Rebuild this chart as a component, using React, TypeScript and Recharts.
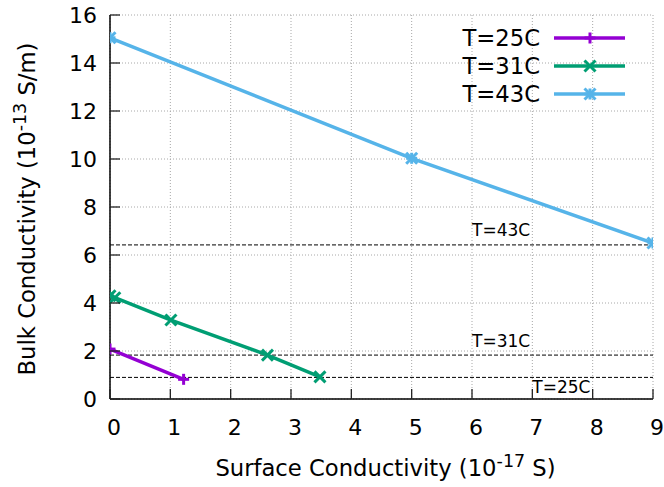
import React from 'react';
import { LineChart, Line, XAxis, YAxis, CartesianGrid, ReferenceLine, ReferenceDot, Legend } from 'recharts';

const xTicks = [0, 1, 2, 3, 4, 5, 6, 7, 8, 9];
const yTicks = [0, 2, 4, 6, 8, 10, 12, 14, 16];

const seriesNames = ['T=25C', 'T=31C', 'T=43C'];
const seriesColors = ['#9400D3', '#009E73', '#56B4E9'];
const seriesMarkers = ['plus', 'cross', 'star'];

const t25Surface = [0, 1.22];
const t25Bulk = [2.08, 0.82];
const t31Surface = [0, 0.08, 1.01, 2.61, 3.48];
const t31Bulk = [4.3, 4.22, 3.29, 1.83, 0.92];
const t43Surface = [0, 5, 9];
const t43Bulk = [15.05, 10.03, 6.5];

const thresholdValues = [6.42, 1.83, 0.9];
const thresholdLabels = ['T=43C', 'T=31C', 'T=25C'];
const thresholdLabelX = [6, 6, 7];
const thresholdLabelY = [7.05, 2.4, 0.52];

const FONT = '"DejaVu Sans", sans-serif';

const toPoints = (xs: number[], ys: number[]) => xs.map((x, i) => ({ x, y: ys[i] }));
const seriesData = [
  toPoints(t25Surface, t25Bulk),
  toPoints(t31Surface, t31Bulk),
  toPoints(t43Surface, t43Bulk),
];

const MarkerShape = ({ kind, cx, cy, color }: any) => {
  const s = 5.5;
  const sw = 3;
  const plus = (
    <>
      <line x1={cx - s} y1={cy} x2={cx + s} y2={cy} stroke={color} strokeWidth={sw} />
      <line x1={cx} y1={cy - s} x2={cx} y2={cy + s} stroke={color} strokeWidth={sw} />
    </>
  );
  const cross = (
    <>
      <line x1={cx - s} y1={cy - s} x2={cx + s} y2={cy + s} stroke={color} strokeWidth={sw} />
      <line x1={cx - s} y1={cy + s} x2={cx + s} y2={cy - s} stroke={color} strokeWidth={sw} />
    </>
  );
  return (
    <g>
      {kind !== 'cross' && plus}
      {kind !== 'plus' && cross}
    </g>
  );
};

const makeDot = (kind: string, color: string) => (props: any) => {
  const { cx, cy, index } = props;
  if (cx == null || cy == null) return <g key={`${kind}-${index}`} />;
  return (
    <g key={`${kind}-${index}`}>
      <MarkerShape kind={kind} cx={cx} cy={cy} color={color} />
    </g>
  );
};

const BottomTick = (props: any) => {
  const { x, y, payload } = props;
  return (
    <g>
      <line x1={x} y1={y} x2={x} y2={y - 10} stroke="#222" strokeWidth={1.3} />
      <text x={x + 4} y={y + 36} textAnchor="middle" fontSize={22} fontFamily={FONT} fill="#000">
        {payload.value}
      </text>
    </g>
  );
};

const TopTick = (props: any) => {
  const { x, y } = props;
  return <line x1={x} y1={y} x2={x} y2={y + 10} stroke="#222" strokeWidth={1.3} />;
};

const LeftTick = (props: any) => {
  const { x, y, payload } = props;
  return (
    <g>
      <line x1={x} y1={y} x2={x + 10} y2={y} stroke="#222" strokeWidth={1.3} />
      <text x={x - 13} y={y + 8} textAnchor="end" fontSize={22} fontFamily={FONT} fill="#000">
        {payload.value}
      </text>
    </g>
  );
};

const RightTick = (props: any) => {
  const { x, y } = props;
  return <line x1={x} y1={y} x2={x - 10} y2={y} stroke="#222" strokeWidth={1.3} />;
};

const XTitle = (props: any) => {
  const { x, y, width } = props.viewBox;
  return (
    <text x={x + width / 2 + 4} y={y + 77} textAnchor="middle" fontSize={22.7} fontFamily={FONT} fill="#000">
      Surface Conductivity (10
      <tspan dy={-9} fontSize={17.5}>-17</tspan>
      <tspan dy={9}> S)</tspan>
    </text>
  );
};

const YTitle = (props: any) => {
  const { y, height } = props.viewBox;
  const cx = 35;
  const cy = y + height / 2 + 2;
  return (
    <text
      x={cx}
      y={cy}
      transform={`rotate(-90, ${cx}, ${cy})`}
      textAnchor="middle"
      fontSize={22.7}
      fontFamily={FONT}
      fill="#000"
    >
      Bulk Conductivity (10
      <tspan dy={-9} fontSize={17.5}>-13</tspan>
      <tspan dy={9}> S/m)</tspan>
    </text>
  );
};

const AnnotationLabel = (text: string) => (props: any) => {
  const { x, y } = props.viewBox;
  return (
    <text x={x} y={y + 6} fontSize={17} fontFamily={FONT} fill="#000">
      {text}
    </text>
  );
};

const renderLegend = () => (
  <svg width={200} height={90} style={{ display: 'block', overflow: 'visible' }}>
    {seriesNames.map((name, i) => {
      const cy = 14 + i * 28;
      return (
        <g key={name}>
          <text x={100} y={cy + 8} textAnchor="end" fontSize={22.7} fontFamily={FONT} fill="#000">
            {name}
          </text>
          <line x1={114} y1={cy} x2={185} y2={cy} stroke={seriesColors[i]} strokeWidth={3.5} />
          <MarkerShape kind={seriesMarkers[i]} cx={150} cy={cy} color={seriesColors[i]} />
        </g>
      );
    })}
  </svg>
);

export default function App() {
  return (
    <div style={{ position: 'absolute', left: 0, top: 0, width: 664, height: 487, background: '#fff' }}>
      <LineChart
        width={664}
        height={487}
        margin={{ top: 15, right: 11, bottom: 0, left: 0 }}
        style={{ fontFamily: FONT }}
      >
        <CartesianGrid stroke="#a8a8a8" strokeDasharray="1 2" strokeWidth={1} />
        <XAxis
          type="number"
          dataKey="x"
          domain={[0, 9]}
          ticks={xTicks}
          interval={0}
          height={88}
          tickSize={0}
          tickMargin={0}
          tick={<BottomTick />}
          axisLine={{ stroke: '#000', strokeWidth: 1.5 }}
          label={<XTitle />}
          allowDataOverflow
        />
        <XAxis
          xAxisId="top"
          orientation="top"
          type="number"
          dataKey="x"
          domain={[0, 9]}
          ticks={xTicks}
          interval={0}
          height={0}
          tickSize={0}
          tickMargin={0}
          tick={<TopTick />}
          axisLine={{ stroke: '#000', strokeWidth: 1.5 }}
          allowDataOverflow
        />
        <YAxis
          type="number"
          domain={[0, 16]}
          ticks={yTicks}
          interval={0}
          width={110}
          tickSize={0}
          tickMargin={0}
          tick={<LeftTick />}
          axisLine={{ stroke: '#000', strokeWidth: 1.5 }}
          label={<YTitle />}
          allowDataOverflow
        />
        <YAxis
          yAxisId="right"
          orientation="right"
          type="number"
          domain={[0, 16]}
          ticks={yTicks}
          interval={0}
          width={0}
          tickSize={0}
          tickMargin={0}
          tick={<RightTick />}
          axisLine={{ stroke: '#000', strokeWidth: 1.5 }}
          allowDataOverflow
        />
        {thresholdValues.map((v, i) => (
          <ReferenceLine
            key={`thr-${i}`}
            y={v}
            stroke="#000"
            strokeWidth={1}
            strokeDasharray="4 2"
          />
        ))}
        {thresholdLabels.map((t, i) => (
          <ReferenceDot
            key={`lab-${i}`}
            x={thresholdLabelX[i]}
            y={thresholdLabelY[i]}
            r={0}
            fill="none"
            stroke="none"
            label={AnnotationLabel(t)}
          />
        ))}
        {seriesData.map((d, i) => (
          <Line
            key={seriesNames[i]}
            data={d}
            dataKey="y"
            name={seriesNames[i]}
            type="linear"
            stroke={seriesColors[i]}
            strokeWidth={3.5}
            dot={makeDot(seriesMarkers[i], seriesColors[i])}
            activeDot={false}
            isAnimationActive={false}
          />
        ))}
        <Legend
          layout="vertical"
          align="center"
          verticalAlign="middle"
          content={renderLegend}
          wrapperStyle={{ left: 440, top: 24, width: 200, height: 90 }}
        />
      </LineChart>
    </div>
  );
}
